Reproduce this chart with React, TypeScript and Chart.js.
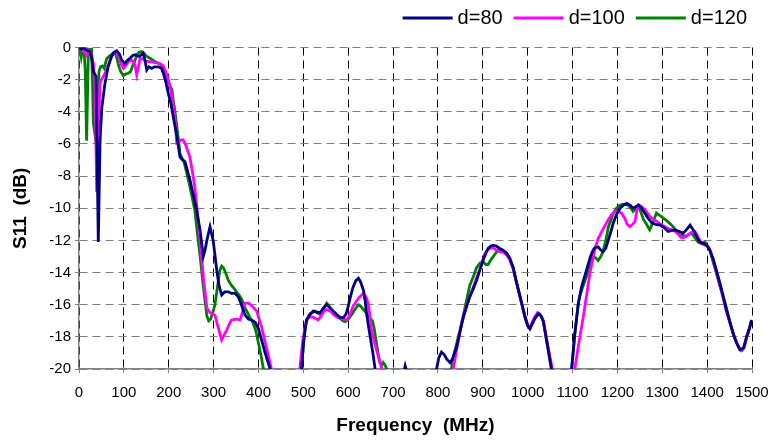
import React, { useEffect, useRef } from "react";
import { Chart, registerables } from "chart.js";

Chart.register(...registerables);

// ---- Data (frequency in MHz, S11 in dB; values below -20 fall outside the plotted range) ----
const freq80 = [0,5,10,18,24,28,32,38,43,47,51,58,65,72,78,84,90,95,102,108,114,120,125,132,137,143,147,151,156,162,168,177,184,188,194,199,205,210,218,225,231,236,241,247,255,262,270,277,281,285,292,299,303,307,312,318,325,333,340,348,355,362,370,378,385,393,400,407,416,426,432,490,496,501,507,515,522,528,537,545,552,560,567,574,582,589,595,600,605,611,617,623,628,634,638,641,645,649,655,660,665,718,724,727,731,736,792,797,802,808,814,820,827,832,837,842,849,857,864,871,879,886,894,901,907,912,918,923,930,938,945,953,960,968,975,983,990,994,1000,1005,1010,1016,1024,1030,1035,1042,1047,1053,1058,1093,1098,1105,1113,1120,1131,1140,1146,1150,1157,1163,1168,1174,1180,1186,1191,1198,1206,1214,1221,1228,1235,1241,1247,1254,1261,1268,1276,1285,1295,1304,1313,1320,1328,1338,1347,1355,1362,1368,1373,1378,1384,1392,1399,1406,1414,1421,1429,1436,1443,1450,1458,1466,1473,1481,1488,1494,1499];
const s11_80 = [0,-0.1,0,-0.2,-0.25,-0.6,-1.5,-1.8,-12.1,-5.75,-3.7,-2.2,-1.2,-0.6,-0.3,-0.2,-0.4,-0.77,-1.0,-0.8,-0.66,-0.5,-0.45,-0.55,-0.5,-0.35,-0.8,-1.4,-1.2,-1.3,-1.2,-1.2,-1.3,-1.6,-2.2,-2.85,-3.5,-4.3,-5.5,-6.8,-7.0,-7.1,-7.6,-8.2,-9.2,-10.1,-11.4,-13.0,-12.6,-12.0,-11.15,-12.0,-12.9,-13.85,-14.8,-15.4,-15.2,-15.2,-15.3,-15.3,-15.5,-16.0,-16.65,-16.9,-16.95,-17.1,-17.5,-18.2,-19.1,-20,-22,-22,-20,-18.2,-16.95,-16.6,-16.4,-16.45,-16.5,-16.2,-16.0,-16.2,-16.4,-16.6,-16.8,-16.8,-16.6,-16.1,-15.5,-14.9,-14.5,-14.35,-14.6,-15.1,-15.8,-16.55,-17.3,-18.0,-19.0,-20,-22,-22,-20.2,-19.8,-20.2,-22,-22,-20,-19.3,-18.95,-19.1,-19.4,-19.6,-19.4,-19.0,-18.6,-17.7,-16.75,-16.1,-15.5,-15.0,-14.5,-13.8,-13.2,-12.8,-12.5,-12.35,-12.3,-12.35,-12.5,-12.6,-12.8,-13.1,-13.7,-14.6,-15.5,-16.3,-16.75,-17.3,-17.5,-17.2,-16.85,-16.55,-16.7,-17.05,-18.2,-19.0,-20,-22,-22,-20,-17.8,-15.9,-14.9,-13.85,-13.0,-12.6,-12.45,-12.4,-12.6,-12.7,-12.5,-11.97,-11.4,-10.9,-10.4,-10.0,-9.8,-9.7,-9.8,-10.0,-9.9,-9.8,-10.0,-10.3,-10.6,-10.9,-11.0,-11.05,-11.2,-11.45,-11.4,-11.35,-11.45,-11.55,-11.3,-11.05,-11.3,-11.55,-11.85,-12.1,-12.2,-12.3,-12.6,-13.2,-13.9,-14.7,-15.5,-16.3,-17.0,-17.8,-18.4,-18.8,-18.7,-18.0,-17.5,-16.95];

const freq100 = [0,6,12,17,22,27,32,36,39.4,42,46.8,52,58,65,72,78,84,90,95,99,105,110,116,121,125,128.6,132,136,142,150,160,173,180,188,196,203,209,214,218,222,228,232,237,242,247,252,258,264,270,278,285,292,303,310,318,323,329,335,340,350,359,364,370,378,386,396,407,418,429,434,487,492,499,507,513,519,526,533,540,546,552,560,567,575,582,590,597,604,611,618,626,632,637,641,645,649,652,657,663,669,675,680,829,834,843,853,862,871,880,890,898,905,910,916,922,930,938,946,953,960,968,975,983,990,994,1000,1005,1010,1016,1022,1028,1035,1042,1048,1055,1060,1100,1105,1114,1124,1132,1139,1145,1150,1157,1165,1172,1180,1187,1195,1202,1209,1216,1222,1228,1234,1239,1243,1247,1254,1262,1272,1280,1287,1296,1306,1316,1325,1335,1343,1350,1358,1366,1373,1380,1388,1396,1403,1410,1418,1426,1433,1440,1447,1455,1462,1470,1476,1482,1488,1494,1499];
const s11_100 = [0,-0.1,-0.3,-0.5,-0.2,-0.4,-1.0,-2.5,-8.97,-6.0,-2.2,-1.9,-1.6,-1.1,-0.6,-0.3,-0.3,-0.7,-1.1,-1.3,-1.1,-0.87,-0.8,-0.85,-1.1,-1.7,-1.3,-0.66,-0.7,-0.85,-0.9,-0.95,-1.0,-1.15,-1.7,-2.4,-3.4,-4.5,-5.95,-5.9,-5.75,-5.75,-6.0,-6.4,-6.8,-7.6,-8.65,-10.3,-12.0,-14.5,-16.2,-16.5,-16.65,-17.4,-18.2,-17.9,-17.6,-17.2,-16.95,-16.9,-16.95,-16.5,-15.9,-15.9,-16.1,-16.4,-17.4,-18.7,-20,-22,-22,-20,-18.2,-16.95,-16.8,-16.75,-16.85,-16.95,-16.7,-16.4,-16.3,-16.4,-16.6,-16.75,-16.85,-16.9,-16.95,-16.6,-16.1,-15.8,-15.5,-15.35,-15.4,-15.6,-16.0,-16.8,-17.6,-18.2,-18.8,-19.4,-20,-22,-22,-20,-18.6,-17.15,-16.2,-15.5,-14.8,-14.05,-13.4,-12.8,-12.6,-12.5,-12.45,-12.6,-12.7,-12.75,-12.9,-13.2,-13.8,-14.6,-15.5,-16.3,-16.75,-17.25,-17.45,-17.1,-16.75,-16.5,-16.6,-17.0,-18.1,-19.0,-20,-22,-22,-20,-18.4,-16.75,-15.3,-14.0,-13.2,-12.5,-11.9,-11.45,-11.1,-10.7,-10.4,-10.2,-10.2,-10.3,-10.6,-11.0,-11.15,-11.0,-10.85,-10.2,-9.8,-9.9,-10.1,-10.5,-10.7,-10.8,-11.0,-11.15,-11.3,-11.35,-11.6,-11.85,-11.8,-11.65,-11.5,-11.45,-11.8,-12.2,-12.3,-12.4,-12.9,-13.7,-14.5,-15.3,-16.1,-16.8,-17.5,-18.1,-18.6,-18.85,-18.7,-18.05,-17.5,-17.0];

const freq120 = [0,2,5,8,11,14,17,19,21,25,28,30,32,36,39.4,42,44.6,48,52,56,61.7,69,76,80,84,88,93,98.7,104,110,115,120,125,129,134,140,146,151,160,169,177,183,188,193,199,203,207,210,214,218,222,225,230,234,240,247,252,258,264,270,276,281,285,289,293,298,303,308,314,318,322,328,333,340,346,351,357,363,368,374,381,388,394,400,406,411,416,490,496,500,504,510,515,520,526,531,537,544,552,558,567,575,582,588,593,600,608,615,623,628,634,640,645,649,654,658,663,667,671,675,678,682,686,690,826,830,834,841,849,857,864,871,879,886,894,901,907,912,918,927,934,942,948,953,960,968,975,983,990,994,1000,1005,1010,1016,1024,1030,1035,1042,1047,1053,1058,1093,1098,1105,1113,1117,1124,1131,1138,1146,1152,1157,1163,1168,1174,1180,1186,1191,1198,1206,1214,1224,1230,1235,1241,1247,1252,1258,1265,1272,1279,1287,1294,1302,1311,1321,1330,1339,1347,1354,1360,1365,1372,1380,1388,1395,1400,1406,1414,1421,1428,1436,1443,1450,1458,1466,1473,1478,1483,1488,1494,1499];
const s11_120 = [0,-0.1,-0.6,-0.1,0,-1.5,-5.8,-3,-0.1,-0.1,-0.1,-2.0,-4.7,-5.5,-6.3,-3.5,-1.5,-1.2,-1.15,-1.3,-0.7,-0.5,-0.35,-0.3,-0.6,-1.1,-1.5,-1.75,-1.65,-1.6,-1.5,-1.1,-0.8,-0.45,-0.3,-0.25,-0.4,-0.55,-0.7,-0.87,-0.97,-1.1,-1.4,-1.8,-2.1,-2.4,-2.6,-3.26,-4.0,-4.9,-5.8,-6.6,-6.9,-7.1,-7.8,-8.65,-9.3,-10.1,-11.6,-13.0,-14.6,-15.8,-16.7,-17.0,-16.9,-16.5,-16.0,-15.0,-13.85,-13.6,-13.7,-14.1,-14.5,-14.8,-15.0,-15.2,-15.4,-15.7,-16.1,-16.4,-16.8,-17.15,-17.6,-18.4,-19.2,-20,-22,-22,-20,-18.5,-17.4,-16.8,-16.55,-16.5,-16.4,-16.5,-16.6,-16.3,-15.9,-16.1,-16.6,-16.75,-16.85,-17.0,-17.05,-16.9,-16.6,-16.3,-16.0,-16.1,-16.3,-16.5,-16.7,-16.85,-17.0,-17.5,-18.4,-19.1,-19.65,-19.75,-19.6,-19.75,-20,-22,-22,-20,-19.3,-18.5,-17.6,-16.6,-15.7,-14.8,-14.25,-13.7,-13.4,-13.35,-13.5,-13.5,-13.2,-12.85,-12.6,-12.6,-12.7,-12.8,-13.1,-13.8,-14.6,-15.5,-16.3,-16.75,-17.3,-17.5,-17.2,-16.85,-16.55,-16.7,-17.05,-18.2,-19.0,-20,-22,-22,-20,-17.9,-15.9,-15.4,-14.8,-14.25,-13.5,-13.0,-13.1,-13.25,-13.0,-12.7,-12.0,-11.15,-10.7,-10.3,-10.0,-9.8,-9.75,-9.8,-10.0,-10.2,-10.05,-9.9,-10.2,-10.7,-11.0,-11.35,-10.9,-10.3,-10.45,-10.6,-10.8,-11.05,-11.35,-11.65,-11.7,-11.75,-11.6,-11.55,-11.8,-12.1,-12.2,-12.1,-12.3,-12.6,-13.4,-14.1,-14.8,-15.5,-16.2,-17.0,-17.8,-18.4,-18.8,-18.85,-18.6,-18.0,-17.5,-16.95];

const seriesLabels = ["d=80", "d=100", "d=120"];
const seriesColors = ["#000080", "#FF00FF", "#008000"];

const xMin = 0;
const xMax = 1500;
const xStep = 100;
const yMin = -20;
const yMax = 0;
const yStep = 2;

const xTitle = "Frequency  (MHz)";
const yTitle = "S11  (dB)";

const FONT = '"Liberation Sans", Arial, Helvetica, sans-serif';

function toPoints(xs: number[], ys: number[]) {
  return xs.map((x, i) => ({ x, y: ys[i] }));
}

const legendPlugin = {
  id: "lineLegend",
  afterDraw(chart: any) {
    const ctx = chart.ctx as CanvasRenderingContext2D;
    const ds = chart.data.datasets;
    ctx.save();
    ctx.font = `20px ${FONT}`;
    ctx.textBaseline = "middle";
    ctx.textAlign = "left";
    const y = 18;
    let x = 747;
    for (let i = ds.length - 1; i >= 0; i--) {
      const label = ds[i].label as string;
      const w = ctx.measureText(label).width;
      x -= w;
      ctx.fillStyle = "#000";
      ctx.fillText(label, x, y);
      x -= 5;
      ctx.strokeStyle = ds[i].borderColor;
      ctx.lineWidth = 3;
      ctx.beginPath();
      ctx.moveTo(x - 50, y);
      ctx.lineTo(x, y);
      ctx.stroke();
      x -= 50 + 11;
    }
    ctx.restore();
  },
};

export default function App() {
  const canvasRef = useRef<HTMLCanvasElement | null>(null);

  useEffect(() => {
    if (!canvasRef.current) return;
    const xs = [freq80, freq100, freq120];
    const ys = [s11_80, s11_100, s11_120];
    const chart = new Chart(canvasRef.current, {
      type: "line",
      data: {
        datasets: seriesLabels.map((label, i) => ({
          label,
          data: toPoints(xs[i], ys[i]),
          borderColor: seriesColors[i],
          backgroundColor: seriesColors[i],
          borderWidth: 2.8,
          pointRadius: 0,
          tension: 0,
          fill: false,
          clip: 0,
        })),
      },
      options: {
        responsive: false,
        animation: false,
        events: [],
        layout: { padding: { top: 47.5, right: 19, bottom: 0, left: 0 } },
        plugins: {
          legend: { display: false },
          tooltip: { enabled: false },
        },
        scales: {
          x: {
            type: "linear",
            min: xMin,
            max: xMax,
            afterFit: (scale: any) => {
              scale.height = 72;
              scale.paddingLeft = 0;
              scale.paddingRight = 0;
            },
            ticks: {
              stepSize: xStep,
              color: "#000",
              font: { family: FONT, size: 15 },
              padding: 11,
              maxRotation: 0,
              autoSkip: false,
              callback: (v: any) => String(v),
            },
            grid: {
              color: "#000",
              lineWidth: 1,
              tickLength: 4,
              tickColor: "#808080",
              tickBorderDash: [],
            } as any,
            border: { display: true, color: "#808080", width: 1.5, dash: [8, 5] } as any,
            title: {
              display: true,
              text: xTitle,
              color: "#000",
              font: { family: FONT, size: 19, weight: "bold" },
              padding: { top: 4, bottom: 4 },
            },
          },
          y: {
            type: "linear",
            min: yMin,
            max: yMax,
            afterFit: (scale: any) => {
              scale.width = 79;
            },
            ticks: {
              stepSize: yStep,
              color: "#000",
              font: { family: FONT, size: 15 },
              padding: 4,
              callback: (v: any) => String(v),
            },
            grid: {
              color: "#808080",
              lineWidth: 1,
              tickLength: 4,
              tickColor: "#808080",
              tickBorderDash: [],
            } as any,
            border: { display: true, color: "#808080", width: 1.5, dash: [8, 5] } as any,
            title: {
              display: true,
              text: yTitle,
              color: "#000",
              font: { family: FONT, size: 19, weight: "bold" },
              padding: { top: 9, bottom: 0 },
            },
          },
        },
      },
      plugins: [legendPlugin],
    } as any);
    return () => chart.destroy();
  }, []);

  return (
    <div style={{ position: "fixed", left: 0, top: 0, width: 771, height: 441, background: "#fff" }}>
      <canvas ref={canvasRef} width={771} height={441} style={{ display: "block", width: 771, height: 441 }} />
    </div>
  );
}
